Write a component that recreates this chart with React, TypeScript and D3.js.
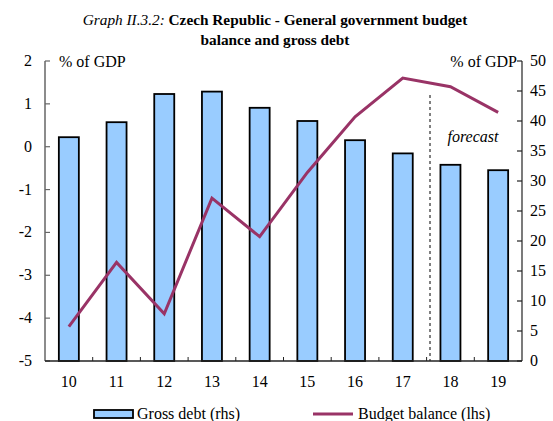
import React from "react";
import * as d3 from "d3";

const categories = ["10", "11", "12", "13", "14", "15", "16", "17", "18", "19"];
const grossDebt = [37.3, 39.8, 44.5, 44.9, 42.2, 40.0, 36.8, 34.6, 32.7, 31.8];
const budgetBalance = [-4.2, -2.7, -3.9, -1.2, -2.1, -0.6, 0.7, 1.6, 1.4, 0.8];
const leftTicks = [2, 1, 0, -1, -2, -3, -4, -5];
const rightTicks = [50, 45, 40, 35, 30, 25, 20, 15, 10, 5, 0];

const W = 553;
const H = 421;
const left = 45;
const right = 522;
const top = 61;
const bottom = 361;

export default function App() {
  const x = d3.scaleBand<string>().domain(categories).range([left, right]).paddingInner(0).paddingOuter(0);
  const yL = d3.scaleLinear().domain([-5, 2]).range([bottom, top]);
  const yR = d3.scaleLinear().domain([0, 50]).range([bottom, top]);
  const bw = 20;
  const line = d3
    .line<number>()
    .x((_, i) => (x(categories[i]) as number) + x.bandwidth() / 2)
    .y((d) => yL(d));
  const font = "'Liberation Serif', 'Times New Roman', serif";
  const fs = 16;
  return (
    <svg width={W} height={H} style={{ position: "absolute", left: 0, top: 0, fontFamily: font }}>
      <rect x={0} y={0} width={W} height={H} fill="#fff" />
      <text x={275} y={25} textAnchor="middle" fontSize={15.3}>
        <tspan fontStyle="italic">Graph II.3.2: </tspan>
        <tspan fontWeight="bold">Czech Republic - General government budget</tspan>
      </text>
      <text x={275} y={45} textAnchor="middle" fontSize={15.3} fontWeight="bold">
        balance and gross debt
      </text>
      {grossDebt.map((v, i) => {
        const cx = (x(categories[i]) as number) + x.bandwidth() / 2;
        return (
          <rect
            key={i}
            x={cx - bw / 2}
            y={yR(v)}
            width={bw}
            height={bottom - yR(v)}
            fill="#99CCFF"
            stroke="#000"
            strokeWidth={1.8}
          />
        );
      })}
      <line x1={430} x2={430} y1={95} y2={bottom} stroke="#000" strokeWidth={1} strokeDasharray="3,3" />
      <text x={473} y={142} textAnchor="middle" fontSize={fs} fontStyle="italic">
        forecast
      </text>
      <path d={line(budgetBalance) as string} fill="none" stroke="#993366" strokeWidth={3} strokeLinejoin="miter" />
      <line x1={left} x2={left} y1={top} y2={bottom} stroke="#666" strokeWidth={1.5} />
      {leftTicks.map((t) => (
        <g key={t}>
          <line x1={left} x2={left + 5} y1={yL(t)} y2={yL(t)} stroke="#666" strokeWidth={1.2} />
          <text x={32} y={yL(t) + 5} textAnchor="end" fontSize={fs}>
            {t}
          </text>
        </g>
      ))}
      <line x1={right} x2={right} y1={top} y2={bottom} stroke="#222" strokeWidth={1.2} />
      {rightTicks.map((t) => (
        <g key={t}>
          <line x1={right - 5} x2={right} y1={yR(t)} y2={yR(t)} stroke="#222" strokeWidth={1.2} />
          <text x={530} y={yR(t) + 5} textAnchor="start" fontSize={fs}>
            {t}
          </text>
        </g>
      ))}
      <line x1={left} x2={right} y1={bottom} y2={bottom} stroke="#222" strokeWidth={1.5} />
      {categories.slice(1).map((c) => (
        <line key={c} x1={x(c) as number} x2={x(c) as number} y1={bottom} y2={bottom - 4} stroke="#222" strokeWidth={1} />
      ))}
      {categories.map((c) => (
        <text key={c} x={(x(c) as number) + x.bandwidth() / 2} y={387} textAnchor="middle" fontSize={fs}>
          {c}
        </text>
      ))}
      <text x={59} y={67} fontSize={fs}>% of GDP</text>
      <text x={517} y={67} textAnchor="end" fontSize={fs}>% of GDP</text>
      <rect x={94} y={410} width={39} height={8} fill="#99CCFF" stroke="#000" strokeWidth={1.8} />
      <text x={137} y={419} fontSize={fs}>Gross debt (rhs)</text>
      <line x1={313} x2={353} y1={414} y2={414} stroke="#993366" strokeWidth={3} />
      <text x={358} y={419} fontSize={fs}>Budget balance (lhs)</text>
    </svg>
  );
}
